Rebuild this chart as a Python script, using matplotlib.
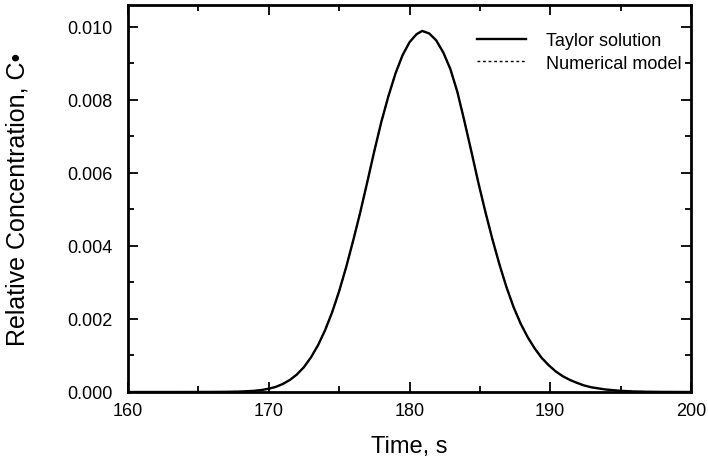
import matplotlib
matplotlib.use("Agg")
import matplotlib.pyplot as plt
from matplotlib.ticker import MultipleLocator, FormatStrFormatter

plt.rcParams['font.family'] = ['Liberation Sans', 'DejaVu Sans']

time_s = [160, 163, 165, 166, 167, 168, 169, 169.5, 170, 170.5, 171, 171.5, 172, 172.5,
          173, 173.5, 174, 174.5, 175, 175.5, 176, 176.5, 177, 177.5, 178, 178.5, 179,
          179.5, 180, 180.5, 180.9, 181.4, 181.9, 182.4, 182.9, 183.4, 183.9, 184.4, 184.9,
          185.4, 185.9, 186.4, 186.9, 187.4, 187.9, 188.4, 188.9, 189.4, 189.9, 190.4,
          190.9, 191.4, 191.9, 192.4, 192.9, 193.9, 194.9, 195.9, 196.9, 197.9, 200]
# concentrations in units of 1e-3
taylor_e3 = [0.0, 0.0, 0.001, 0.002, 0.005, 0.012, 0.033, 0.055, 0.09, 0.14, 0.22, 0.33,
             0.48, 0.68, 0.95, 1.28, 1.69, 2.18, 2.76, 3.42, 4.15, 4.92, 5.75, 6.60, 7.40,
             8.10, 8.72, 9.22, 9.58, 9.80, 9.89, 9.82, 9.63, 9.30, 8.85, 8.22, 7.42, 6.58,
             5.72, 4.92, 4.17, 3.48, 2.86, 2.32, 1.87, 1.50, 1.19, 0.93, 0.73, 0.56, 0.43,
             0.33, 0.25, 0.18, 0.13, 0.07, 0.035, 0.015, 0.007, 0.003, 0.0]
numerical_e3 = [0.0, 0.0, 0.001, 0.002, 0.005, 0.012, 0.033, 0.055, 0.09, 0.14, 0.22, 0.33,
                0.48, 0.68, 0.95, 1.28, 1.69, 2.18, 2.76, 3.42, 4.15, 4.92, 5.75, 6.60, 7.40,
                8.10, 8.72, 9.22, 9.58, 9.80, 9.89, 9.82, 9.63, 9.30, 8.85, 8.22, 7.42, 6.58,
                5.72, 4.92, 4.17, 3.48, 2.86, 2.32, 1.87, 1.50, 1.19, 0.93, 0.73, 0.56, 0.43,
                0.33, 0.25, 0.18, 0.13, 0.07, 0.035, 0.015, 0.007, 0.003, 0.0]

taylor = [v * 1e-3 for v in taylor_e3]
numerical = [v * 1e-3 for v in numerical_e3]

fig = plt.figure(figsize=(7.08, 4.64), dpi=100)
ax = fig.add_axes([128/708, 1-393/464, (691-128)/708, (393-6)/464])

ax.plot(time_s, taylor, color='black', lw=1.7, ls='-', label='Taylor solution',
        solid_joinstyle='round')
ax.plot(time_s, numerical, color='black', lw=1.0, ls=(0, (2, 2)), label='Numerical model')

ax.set_xlim(160, 200)
ax.set_ylim(0, 0.0106)
ax.xaxis.set_major_locator(MultipleLocator(10))
ax.xaxis.set_minor_locator(MultipleLocator(5))
ax.yaxis.set_major_locator(MultipleLocator(0.002))
ax.yaxis.set_minor_locator(MultipleLocator(0.001))
ax.yaxis.set_major_formatter(FormatStrFormatter('%.3f'))

ax.tick_params(which='both', direction='in', top=True, right=True, width=1.3, colors='black')
ax.tick_params(which='major', length=7, labelsize=13)
ax.tick_params(axis='y', which='major', pad=11)
ax.tick_params(axis='x', which='major', pad=7)
ax.tick_params(which='minor', length=4)
for s in ax.spines.values():
    s.set_linewidth(2.0)

ax.set_xlabel('Time, s', fontsize=17, labelpad=12)
ax.set_ylabel('Relative Concentration, C•', fontsize=18, labelpad=27)

leg = ax.legend(loc='upper left', bbox_to_anchor=(0.62, 0.93), frameon=False,
                fontsize=13, handlelength=2.7, handletextpad=1.1, labelspacing=0.3,
                borderaxespad=0.0, borderpad=0.0)

fig.savefig('out.png', dpi=100)
